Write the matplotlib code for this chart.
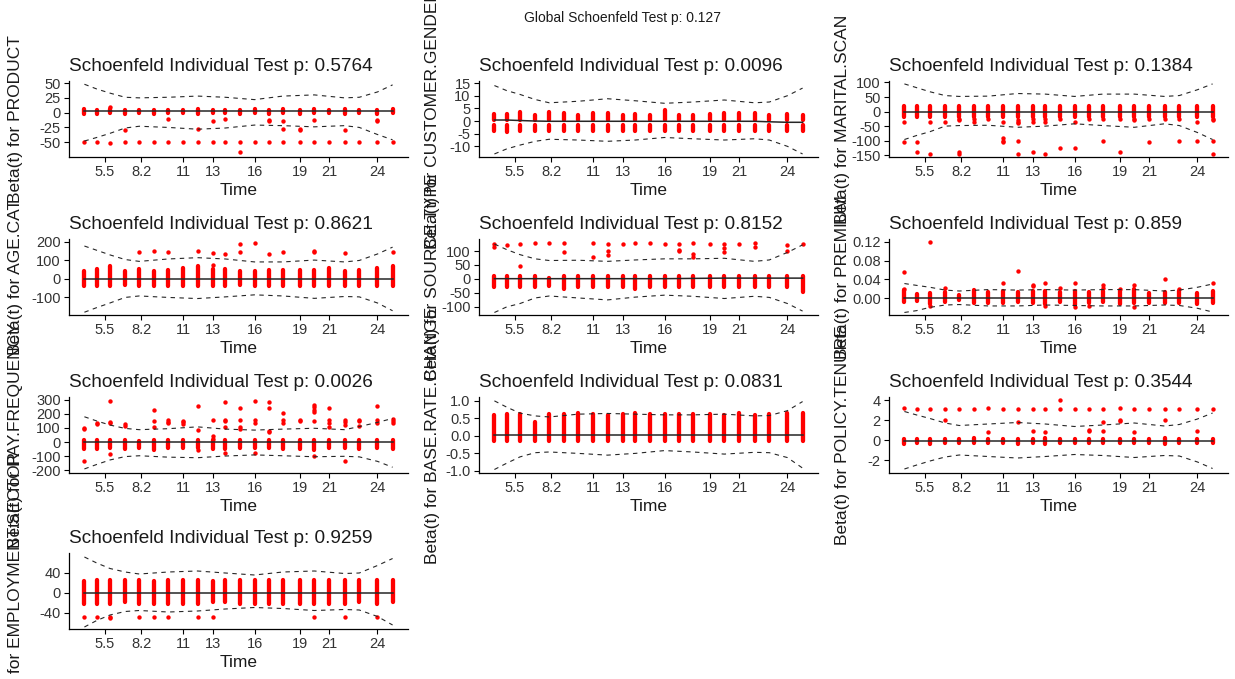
"""Schoenfeld residual panels (ggcoxzph style) redrawn with matplotlib."""

import numpy as np
import matplotlib
matplotlib.use("Agg")
import matplotlib.pyplot as plt

plt.rcParams['font.family'] = ['Liberation Sans', 'DejaVu Sans']
plt.rcParams['axes.unicode_minus'] = False

# transformed event times (one column of residuals per event time)
X_POS = [0.000, 0.040, 0.083, 0.132, 0.178, 0.225, 0.272, 0.320, 0.367, 0.417, 0.457,
         0.504, 0.552, 0.599, 0.644, 0.698, 0.746, 0.795, 0.844, 0.892, 0.951, 1.000]
X_TICKS = [0.067, 0.185, 0.320, 0.417, 0.552, 0.701, 0.795, 0.951]
X_TICK_LABELS = ['5.5', '8.2', '11', '13', '16', '19', '21', '24']
# columns at which the fitted beta(t) and its band are read
KNOT_COLS = [1, 2, 3, 4, 5, 7, 9, 11, 13, 15, 17, 19, 20, 21, 22]

GLOBAL_P = 0.127
VARIABLES = ['PRODUCT', 'CUSTOMER.GENDER', 'MARITAL.SCAN', 'AGE.CAT', 'SOURCE.TYPE',
             'PREMIUM', 'PAY.FREQUENCY', 'BASE.RATE.CHANGE', 'POLICY.TENURE',
             'EMPLOYMENT.SECTOR']
P_VALUES = [0.5764, 0.0096, 0.1384, 0.8621, 0.8152, 0.859, 0.0026, 0.0831, 0.3544, 0.9259]

# ---- PRODUCT
P1_LO = [-2, -2, -1, -2, -1, -2, -1, -1, -2, -1, -1, -2, -1, -2, -1, -2, -1, -1, -2, -1, -2, -1]
P1_HI = [6, 5, 7, 5, 5, 5, 5, 5, 7, 5, 5, 5, 7, 5, 6, 5, 6, 5, 6, 5, 5, 6]
P1_OC = [3, 4, 7, 9, 10, 11, 14, 14, 15, 15, 16, 16, 17, 19, 21, 21, 12,
         1, 2, 3, 4, 5, 6, 7, 8, 9, 10, 11, 12, 13, 14, 15, 16, 17, 18, 19, 20, 21, 22]
P1_OY = [10, -30, -11, -28, -14, -11, -12, -14, -14, -27, -27, -29, -12, -30, -12, -14, -67,
         -50, -50, -52, -49, -50, -49, -50, -50, -50, -50, -50, -50, -50, -50, -50, -50, -49,
         -50, -50, -49, -50, -50]
P1_FIT = [2.5, 2.5, 2.5, 2.5, 2.5, 2.5, 2.5, 2.5, 2.5, 2.5, 2.5, 2.5, 2.5, 2.5, 2.5]
P1_UP = [48, 40, 33, 26, 25, 26, 28, 26, 22, 28, 30, 25, 26, 35, 47]
P1_LOW = [-48, -42, -35, -26, -23, -25, -28, -26, -21, -22, -24, -22, -25, -37, -46]

# ---- CUSTOMER.GENDER (two clusters per column)
P2_UP_LO = [0.5, 0.5, 0.5, 0.5, 0.5, 0.5, 0.5, 0.5, 0.5, 0.5, 0.5, 0.5, 0.5, 0.5, 0.5, 0.5,
            0.5, 0.5, 0.5, 0.5, 0.5, 0.5]
P2_UP_HI = [2.8, 2.8, 3.5, 2.5, 3.5, 3.0, 2.5, 3.0, 3.2, 2.5, 2.8, 2.5, 4.5, 2.5, 2.5, 2.8,
            3.0, 3.0, 3.0, 2.5, 2.8, 2.5]
P2_DN_LO = [-4.0, -4.5, -4.0, -4.0, -4.0, -4.0, -4.0, -4.0, -4.0, -4.0, -4.0, -4.0, -4.0,
            -4.0, -4.0, -4.0, -4.0, -4.0, -4.0, -4.0, -4.0, -4.0]
P2_DN_HI = [-1.5, -1.5, -1.5, -1.5, -1.5, -1.5, -1.5, -1.5, -1.5, -1.5, -1.5, -1.5, -1.5,
            -1.5, -1.5, -1.5, -1.5, -1.5, -1.5, -1.5, -1.5, -1.5]
P2_OC = []
P2_OY = []
P2_FIT = [0.4, 0.4, 0.2, 0.0, -0.1, -0.1, -0.1, -0.1, -0.1, -0.1, -0.1, -0.1, -0.3, -0.5, -0.5]
P2_UP = [14, 12, 10.5, 8.5, 7.2, 7.8, 8.8, 8.0, 7.0, 7.5, 8.3, 7.2, 7.5, 10, 13]
P2_LOW = [-13, -11, -9.5, -8, -7.2, -7.5, -8, -7.5, -6.5, -7, -7.5, -7, -7.5, -10, -13]

# ---- MARITAL.SCAN
P3_LO = [-18, -18, -18, -18, -20, -18, -18, -18, -20, -18, -18, -18, -18, -18, -18, -18,
         -20, -18, -18, -18, -18, -20]
P3_HI = [20, 20, 20, 20, 20, 20, 20, 20, 20, 20, 20, 20, 20, 20, 20, 20, 20, 20, 20, 20, 20, 20]
P3_OC = [1, 1, 2, 2, 3, 3, 4, 5, 5, 5, 5, 6, 6, 7, 8, 8, 8, 8, 9, 9, 9, 9, 9, 10, 10, 10,
         11, 11, 11, 12, 12, 13, 13, 14, 15, 15, 16, 16, 17, 17, 18, 18, 19, 20, 20, 21, 21,
         22, 22, 22, 22]
P3_OY = [-35, -105, -105, -140, -35, -145, -35, -25, -30, -140, -145, -25, -35, -25, -35, -90,
         -100, -105, -30, -35, -40, -100, -145, -25, -35, -140, -25, -35, -145, -25, -125,
         -35, -125, -25, -25, -100, -25, -140, -25, -30, -25, -105, -25, -25, -100, -35, -100,
         -25, -30, -100, -145]
P3_FIT = [0, 0, 0, 0, 0, 0, 0, 0, 0, 0, 0, 0, 0, 0, 0]
P3_UP = [95, 82, 68, 55, 52, 53, 62, 60, 52, 60, 60, 52, 55, 75, 95]
P3_LOW = [-96, -82, -69, -50, -48, -47, -54, -50, -42, -48, -54, -42, -48, -72, -96]

# ---- AGE.CAT
P4_LO = [-38, -38, -38, -35, -38, -38, -38, -38, -38, -38, -38, -35, -38, -38, -38, -38, -38,
         -38, -38, -38, -38, -38]
P4_HI = [45, 55, 70, 45, 55, 45, 50, 60, 70, 55, 55, 45, 45, 50, 50, 50, 50, 60, 45, 50, 60, 70]
P4_OC = [5, 6, 7, 9, 10, 10, 11, 12, 12, 13, 14, 15, 17, 17, 19, 22]
P4_OY = [145, 150, 145, 150, 140, 75, 135, 190, 145, 195, 135, 145, 150, 145, 140, 145]
P4_FIT = [0, 0, 0, 0, 0, 0, 0, 0, 0, 0, 0, 0, 0, 0, 0]
P4_UP = [178, 155, 130, 105, 95, 108, 115, 108, 92, 92, 102, 92, 100, 135, 172]
P4_LOW = [-180, -155, -130, -100, -92, -100, -106, -97, -86, -92, -105, -95, -97, -130, -172]

# ---- SOURCE.TYPE
P5_LO = [-30, -30, -30, -30, -25, -35, -30, -30, -30, -30, -35, -30, -30, -30, -30, -30, -30,
         -30, -30, -30, -30, -45]
P5_HI = [10, 10, 10, 10, 5, 10, 10, 10, 10, 10, 10, 10, 12, 10, 12, 10, 10, 10, 12, 10, 10, 10]
P5_OC = [1, 1, 2, 3, 3, 4, 5, 6, 6, 8, 8, 9, 9, 9, 10, 11, 12, 13, 14, 14, 14, 15, 15, 15,
         16, 17, 17, 17, 18, 19, 19, 21, 21, 22]
P5_OY = [125, 115, 120, 125, 45, 128, 128, 128, 95, 128, 80, 125, 100, 85, 125, 128, 128,
         125, 125, 105, 100, 128, 90, 80, 125, 125, 110, 95, 125, 128, 115, 120, 100, 125]
P5_FIT = [1, 1, 1, 1, 1, 1, 1, 1, 1, 2, 3, 3, 3, 3, 3]
P5_UP = [125, 105, 87, 72, 66, 67, 63, 68, 72, 72, 74, 63, 68, 95, 122]
P5_LOW = [-120, -100, -88, -68, -61, -68, -75, -65, -58, -62, -70, -62, -66, -88, -115]

# ---- PREMIUM
P6_LO = [-0.008, -0.006, -0.012, -0.008, -0.004, -0.010, -0.010, -0.010, -0.008, -0.010,
         -0.012, -0.008, -0.014, -0.010, -0.008, -0.012, -0.010, -0.010, -0.010, -0.010,
         -0.012, -0.010]
P6_HI = [0.018, 0.008, 0.010, 0.012, 0.007, 0.018, 0.012, 0.014, 0.012, 0.015, 0.014, 0.012,
         0.014, 0.012, 0.014, 0.016, 0.020, 0.010, 0.012, 0.014, 0.010, 0.016]
P6_OC = [1, 1, 3, 3, 4, 8, 9, 10, 10, 11, 11, 12, 13, 13, 14, 15, 15, 16, 17, 17, 19, 20, 22]
P6_OY = [0.055, 0.020, 0.120, -0.018, 0.022, 0.032, 0.057, 0.028, 0.025, 0.032, -0.018,
         0.022, 0.032, -0.020, -0.018, 0.028, 0.022, 0.020, 0.028, -0.020, 0.040, 0.020, 0.033]
P6_FIT = [0, 0, 0, 0, 0, 0, 0, 0, 0, 0, 0, 0, 0, 0, 0]
P6_UP = [0.031, 0.027, 0.023, 0.017, 0.015, 0.018, 0.017, 0.018, 0.017, 0.018, 0.018, 0.015,
         0.017, 0.023, 0.030]
P6_LOW = [-0.031, -0.027, -0.020, -0.015, -0.014, -0.017, -0.017, -0.015, -0.016, -0.017,
          -0.017, -0.015, -0.016, -0.022, -0.030]

# ---- PAY.FREQUENCY
P7_LO = [-50, -50, -40, -50, -40, -55, -40, -40, -45, -50, -50, -45, -45, -40, -50, -50, -60,
         -45, -45, -50, -40, -50]
P7_HI = [15, 15, 15, 15, 10, 15, 15, 15, 15, 15, 15, 15, 15, 15, 15, 15, 15, 15, 15, 15, 15, 15]
P7_OC = [1, 1, 1, 2, 2, 3, 3, 3, 3, 4, 4, 6, 6, 6, 7, 7, 7, 8, 8, 8, 9, 9, 9, 10, 10, 10,
         11, 11, 11, 11, 11, 12, 12, 12, 12, 13, 13, 13, 13, 14, 14, 14, 14, 15, 15, 15, 16,
         16, 17, 17, 17, 17, 17, 17, 18, 18, 18, 18, 19, 19, 19, 19, 20, 20, 20, 21, 21, 21,
         22, 22, 22]
P7_OY = [100, 90, -135, 135, 130, 295, 145, 135, -85, 130, 115, 225, 150, 110, 155, 145, 135,
         150, 140, 130, 260, 85, -60, 160, 40, 20, 285, 155, 150, 110, -75, 240, 155, 110, 90,
         295, 155, 135, -75, 285, 240, 80, 70, 210, 155, 135, 160, 150, 265, 250, 225, 215,
         150, -100, 240, 155, 135, 110, 155, 145, 120, -135, 160, 150, 115, 255, 155, 135,
         165, 150, 135]
P7_FIT = [0, 0, 0, 0, 0, 0, 0, 0, 0, 0, 0, 0, 0, 0, 0]
P7_UP = [180, 150, 121, 97, 88, 95, 108, 92, 85, 92, 98, 88, 110, 140, 168]
P7_LOW = [-192, -160, -128, -104, -98, -108, -112, -100, -92, -98, -105, -102, -106, -138, -180]

# ---- BASE.RATE.CHANGE
P8_LO = [-0.15, -0.15, -0.15, -0.15, -0.15, -0.15, -0.15, -0.15, -0.15, -0.15, -0.15, -0.15,
         -0.15, -0.15, -0.15, -0.15, -0.15, -0.15, -0.15, -0.15, -0.15, -0.15]
P8_HI = [0.60, 0.62, 0.62, 0.40, 0.62, 0.62, 0.65, 0.62, 0.60, 0.62, 0.65, 0.62, 0.62, 0.62,
         0.62, 0.62, 0.60, 0.65, 0.60, 0.62, 0.65, 0.65]
P8_OC = []
P8_OY = []
P8_FIT = [0.03, 0.03, 0.03, 0.03, 0.03, 0.03, 0.03, 0.03, 0.03, 0.03, 0.03, 0.03, 0.03, 0.03,
          0.03]
P8_UP = [1.0, 0.82, 0.65, 0.57, 0.54, 0.62, 0.64, 0.62, 0.60, 0.60, 0.62, 0.57, 0.58, 0.72, 0.98]
P8_LOW = [-0.96, -0.78, -0.60, -0.48, -0.46, -0.50, -0.55, -0.50, -0.42, -0.46, -0.52, -0.47,
          -0.48, -0.62, -0.92]

# ---- POLICY.TENURE
P9_LO = [-0.35, -0.3, -0.4, -0.3, -0.3, -0.3, -0.3, -0.3, -0.35, -0.3, -0.35, -0.3, -0.3, -0.3,
         -0.3, -0.3, -0.3, -0.3, -0.35, -0.3, -0.3, -0.3]
P9_HI = [0.15, 0.15, 0.15, 0.15, 0.15, 0.2, 0.15, 0.15, 0.15, 0.15, 0.2, 0.15, 0.15, 0.15,
         0.15, 0.15, 0.15, 0.15, 0.2, 0.15, 0.15, 0.15]
P9_OC = [1, 2, 3, 4, 4, 5, 6, 7, 7, 8, 9, 9, 10, 10, 11, 11, 12, 12, 13, 14, 14, 14, 15, 15,
         15, 16, 16, 16, 17, 17, 18, 19, 19, 20, 21, 21, 22]
P9_OY = [3.2, 3.1, 3.15, 3.1, 2.0, 3.15, 3.15, 3.2, 0.85, 3.1, 3.1, 1.85, 3.1, 0.95, 3.1, 0.85,
         4.05, 3.1, 3.1, 3.1, 1.0, 0.9, 3.1, 1.85, 0.95, 3.2, 2.0, 1.9, 3.1, 0.85, 3.15, 3.1,
         2.0, 3.1, 3.1, 0.95, 3.1]
P9_FIT = [-0.05, -0.05, -0.05, -0.05, -0.05, -0.05, -0.05, -0.05, -0.05, -0.05, -0.05, -0.05,
          -0.05, -0.05, -0.05]
P9_UP = [2.85, 2.5, 2.15, 1.7, 1.45, 1.6, 1.75, 1.6, 1.35, 1.5, 1.7, 1.4, 1.55, 2.1, 2.7]
P9_LOW = [-2.9, -2.5, -2.1, -1.7, -1.5, -1.65, -1.8, -1.65, -1.45, -1.55, -1.75, -1.55, -1.6,
          -2.2, -2.85]

# ---- EMPLOYMENT.SECTOR
P10_LO = [-21, -21, -21, -18, -21, -21, -21, -21, -21, -18, -18, -21, -21, -21, -21, -21, -21,
          -21, -21, -18, -21, -18]
P10_HI = [24, 27, 27, 26, 27, 25, 26, 27, 27, 25, 26, 27, 27, 27, 27, 27, 27, 27, 27, 26, 27, 27]
P10_OC = [1, 2, 3, 3, 5, 6, 7, 9, 10, 17, 19, 21]
P10_OY = [-47, -47, -50, -47, -47, -48, -48, -48, -47, -48, -47, -47]
P10_FIT = [0, 0, 0, 0, 0, 0, 0, 0, 0, 0, 0, 0, 0, 0, 0]
P10_UP = [72, 60, 49, 42, 38, 42, 44, 40, 36, 42, 44, 39, 40, 55, 69]
P10_LOW = [-68, -55, -44, -37, -35, -38, -36, -32, -29, -31, -35, -33, -34, -47, -64]

# y axis per panel: ticks, tick label format, limits
Y_TICKS = [[-50, -25, 0, 25, 50], [-10, -5, 0, 5, 10, 15], [-150, -100, -50, 0, 50, 100],
           [-100, 0, 100, 200], [-100, -50, 0, 50, 100], [0.0, 0.04, 0.08, 0.12],
           [-200, -100, 0, 100, 200, 300], [-1.0, -0.5, 0.0, 0.5, 1.0], [-2, 0, 2, 4],
           [-40, 0, 40]]
Y_FMT = ['{:.0f}', '{:.0f}', '{:.0f}', '{:.0f}', '{:.0f}', '{:.2f}', '{:.0f}', '{:.1f}',
         '{:.0f}', '{:.0f}']
Y_LIMS = [(-75, 53.5), (-14.2, 15.8), (-156, 105), (-195, 216), (-129, 143),
          (-0.0364, 0.1264), (-221, 321), (-1.06, 1.11), (-3.3, 4.3), (-72, 80)]

PANELS = [
    dict(bars=[(P1_LO, P1_HI)], oc=P1_OC, oy=P1_OY, fit=P1_FIT, up=P1_UP, low=P1_LOW),
    dict(bars=[(P2_UP_LO, P2_UP_HI), (P2_DN_LO, P2_DN_HI)], oc=P2_OC, oy=P2_OY, fit=P2_FIT,
         up=P2_UP, low=P2_LOW),
    dict(bars=[(P3_LO, P3_HI)], oc=P3_OC, oy=P3_OY, fit=P3_FIT, up=P3_UP, low=P3_LOW),
    dict(bars=[(P4_LO, P4_HI)], oc=P4_OC, oy=P4_OY, fit=P4_FIT, up=P4_UP, low=P4_LOW),
    dict(bars=[(P5_LO, P5_HI)], oc=P5_OC, oy=P5_OY, fit=P5_FIT, up=P5_UP, low=P5_LOW),
    dict(bars=[(P6_LO, P6_HI)], oc=P6_OC, oy=P6_OY, fit=P6_FIT, up=P6_UP, low=P6_LOW),
    dict(bars=[(P7_LO, P7_HI)], oc=P7_OC, oy=P7_OY, fit=P7_FIT, up=P7_UP, low=P7_LOW),
    dict(bars=[(P8_LO, P8_HI)], oc=P8_OC, oy=P8_OY, fit=P8_FIT, up=P8_UP, low=P8_LOW),
    dict(bars=[(P9_LO, P9_HI)], oc=P9_OC, oy=P9_OY, fit=P9_FIT, up=P9_UP, low=P9_LOW),
    dict(bars=[(P10_LO, P10_HI)], oc=P10_OC, oy=P10_OY, fit=P10_FIT, up=P10_UP, low=P10_LOW),
]

W, H = 1235, 679
COL_LEFT = [69, 479, 889]
ROW_TOP = [81, 239, 397, 553]
AX_W, AX_H = 339, 76
YLABEL_OFFSET = [53, 47, 46]   # px from axis line to centre of the y label

TEXT_COL = '#1a1a1a'
LINE_COL = '#262626'


def draw_panel(ax, spec):
    x = np.array(X_POS)
    for lo, hi in spec['bars']:
        ax.vlines(x, lo, hi, colors='#ff0000', linewidth=3.1, capstyle='round', zorder=2)
    if spec['oc']:
        ox = [X_POS[c - 1] for c in spec['oc']]
        ax.scatter(ox, spec['oy'], s=10, c='#ff0000', linewidths=0, zorder=2)
    kx = [X_POS[c - 1] for c in KNOT_COLS]
    ax.plot(kx, spec['fit'], color=LINE_COL, lw=1.1, zorder=3)
    ax.plot(kx, spec['up'], color=LINE_COL, lw=0.8, dashes=(4, 4), zorder=3)
    ax.plot(kx, spec['low'], color=LINE_COL, lw=0.8, dashes=(4, 4), zorder=3)


fig = plt.figure(figsize=(W / 100, H / 100), dpi=100)

for i, spec in enumerate(PANELS):
    row, col = divmod(i, 3)
    left, top = COL_LEFT[col], ROW_TOP[row]
    ax = fig.add_axes([left / W, 1 - (top + AX_H) / H, AX_W / W, AX_H / H])
    draw_panel(ax, spec)

    ax.set_xlim(-0.05, 1.05)
    ax.set_ylim(*Y_LIMS[i])
    ax.set_xticks(X_TICKS, labels=X_TICK_LABELS)
    ax.set_yticks(Y_TICKS[i], labels=[Y_FMT[i].format(v) for v in Y_TICKS[i]])
    for s in ['top', 'right']:
        ax.spines[s].set_visible(False)
    for s in ['left', 'bottom']:
        ax.spines[s].set_linewidth(0.9)
    ax.tick_params(length=3.5, width=0.8, labelsize=10.5, labelcolor='#333333', pad=2.5)

    ax.set_title(f"Schoenfeld Individual Test p: {P_VALUES[i]}", loc='left', fontsize=13.7,
                 color=TEXT_COL, pad=7)
    ax.set_xlabel('Time', fontsize=12.5, color=TEXT_COL, labelpad=2.5)
    ax.set_ylabel(f"Beta(t) for {VARIABLES[i]}", fontsize=12.5, color=TEXT_COL, va='center')
    ax.yaxis.set_label_coords(-YLABEL_OFFSET[col] / AX_W, 0.5)

fig.text(622 / W, 1 - 18 / H, f"Global Schoenfeld Test p: {GLOBAL_P}", ha='center',
         va='center', fontsize=10, color=TEXT_COL)

fig.savefig('out.png', dpi=100, facecolor='white')
